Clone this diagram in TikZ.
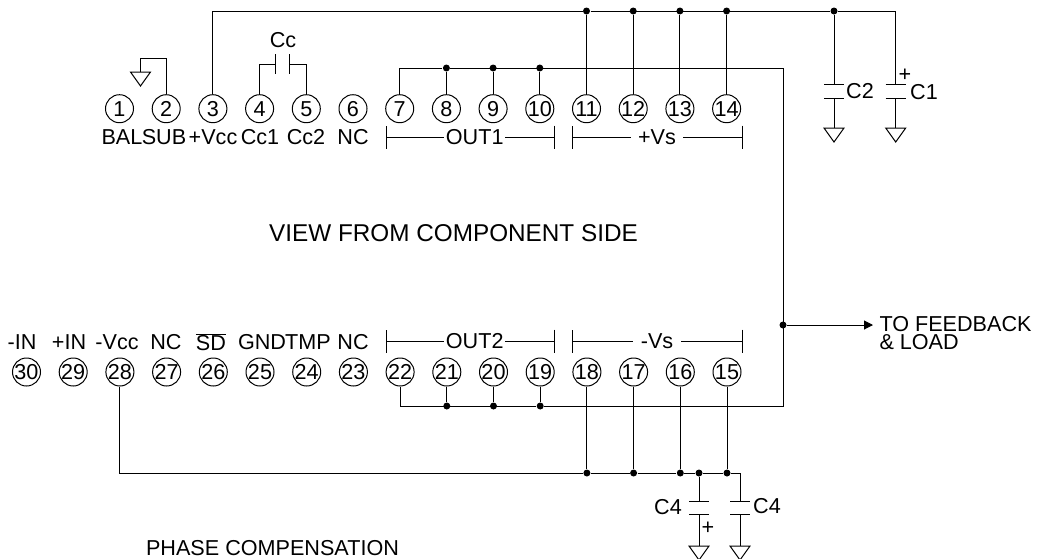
\documentclass[tikz,border=0pt]{standalone}
\usepackage{fontspec}
\setmainfont{Liberation Sans}
\usetikzlibrary{arrows.meta}
\tikzset{
  pin/.style={draw, circle, inner sep=0pt, minimum size=28pt},
  lbl/.style={inner sep=0pt, font=\fontsize{21.6}{21.6}\selectfont},
  lblb/.style={lbl, inner sep=1pt},
  lblw/.style={lbl, inner sep=7pt},
  jdot/.style={fill, circle, inner sep=0pt, minimum size=7pt},
  brack/.style={{Bar[width=23pt]}-},
  capplate/.style={line width=1pt}
}
\begin{document}
\begin{tikzpicture}[x=1pt, y=-1pt, line width=1pt]
\useasboundingbox (0,0) rectangle (1038,558);
% pins
\foreach \n in {1,...,14}{
  \node[pin, label={[lbl]center:\n}] (p\n) at ({72.8+46.7*\n},108.7) {};
}
\foreach \n in {15,...,30}{
  \node[pin, label={[lbl]center:\n}] (p\n) at ({727-46.7*(\n-15)},372) {};
}
% pin names, top row
\foreach \nm/\x/\t in {bal/122/BAL,sub/164/SUB,vccp/213/+Vcc,ccone/260/Cc1,cctwo/306/Cc2,nca/353/NC}{
  \node[lbl] (\nm) at (\x,137) {\t};
}
% pin names, bottom row
\foreach \nm/\x/\t in {inm/22/-IN,inp/69/+IN,vccm/117/-Vcc,ncb/166/NC,gnd/262/GND,tmp/308/TMP,ncc/353/NC}{
  \node[lbl] (\nm) at (\x,342) {\t};
}
\node[lbl] (sd) at (211,342) {$\overline{\mbox{SD}}$};
% brackets
\node[lblb] (outone) at (474.7,137) {OUT1};
\node[lblw] (vsp) at (657,137) {+Vs};
\node[lblb] (outtwo) at (474.7,341) {OUT2};
\node[lblw] (vsm) at (657,341) {-Vs};
\coordinate (bl1) at (385.5,137);
\coordinate (br1) at (555,137);
\coordinate (bl2) at (572,137);
\coordinate (br2) at (743,137);
\coordinate (bl3) at (385.5,341);
\coordinate (br3) at (555,341);
\coordinate (bl4) at (572,341);
\coordinate (br4) at (743,341);
\draw[brack] (bl1) -- (outone);
\draw[brack] (br1) -- (outone);
\draw[brack] (bl2) -- (vsp);
\draw[brack] (br2) -- (vsp);
\draw[brack] (bl3) -- (outtwo);
\draw[brack] (br3) -- (outtwo);
\draw[brack] (bl4) -- (vsm);
\draw[brack] (br4) -- (vsm);
% supply bus, top
\foreach \n in {11,12,13,14}{
  \node[jdot] (jt\n) at (p\n |- 0,11) {};
  \draw (p\n) -- (jt\n);
}
\node[jdot] (jc2) at (834,11) {};
\coordinate (c1corner) at (895.7,11);
\coordinate (c1t) at (895.7,84);
\coordinate (c1b) at (895.7,98);
\coordinate (c2t) at (834,84);
\coordinate (c2b) at (834,98);
\coordinate (g1) at (895.7,128);
\coordinate (g2) at (834,128);
\draw (p3) |- (jt11) -- (jc2) -- (c1corner) -- (c1t);
\draw (jc2) -- (c2t);
\draw (c2b) -- (g2);
\draw (c1b) -- (g1);
\node[lbl] (c2lbl) at (860,91) {C2};
\node[lbl] (c1lbl) at (924,92) {C1};
\node[lbl] (c1plus) at (905,75) {+};
% output net
\foreach \n in {8,9,10}{
  \node[jdot] (jo\n) at (p\n |- 0,68) {};
  \draw (p\n) -- (jo\n);
}
\foreach \n in {21,20,19}{
  \node[jdot] (jo\n) at (p\n |- 0,406) {};
  \draw (p\n) -- (jo\n);
}
\coordinate (nettop) at (783,68);
\coordinate (netbot) at (783,406);
\draw (p7) |- (jo8) -- (nettop) -- (netbot) -- (jo19) -- (p22 |- jo19) -- (p22);
\node[jdot] (jout) at (783,325) {};
\node[lbl, anchor=west] (fb) at (879,324) {TO FEEDBACK};
\node[lbl, anchor=west] (load) at (879,342) {\& LOAD};
\draw[-{Triangle[length=9pt,width=9pt]}, shorten >=6pt] (jout) -- (jout -| fb.west);
% supply bus, bottom
\foreach \n in {18,17,16,15}{
  \node[jdot] (jb\n) at (p\n |- 0,473) {};
  \draw (p\n) -- (jb\n);
}
\node[jdot] (jc4) at (699,473) {};
\coordinate (c4corner) at (740,473);
\coordinate (c4at) at (699,501);
\coordinate (c4ab) at (699,514);
\coordinate (c4bt) at (740,501);
\coordinate (c4bb) at (740,514);
\coordinate (g4a) at (699,546);
\coordinate (g4b) at (740,546);
\draw (p28) |- (jb18) -- (jb17) -- (jb16) -- (jc4) -- (jb15) -- (c4corner) -- (c4bt);
\draw (jc4) -- (c4at);
\draw (c4ab) -- (g4a);
\draw (c4bb) -- (g4b);
\node[lbl] (c4alb) at (668,507) {C4};
\node[lbl] (c4blb) at (767,506) {C4};
\node[lbl] (c4plus) at (708,528) {+};
% plates
\foreach \c in {c1t,c1b,c2t,c2b,c4at,c4ab,c4bt,c4bb}{
  \draw[capplate] (\c) ++(-10,0) -- ++(20,0);
}
% Cc and pin 2
\coordinate (cca) at (275,64);
\coordinate (ccb) at (289,64);
\draw (p4) |- (cca);
\draw (p5) |- (ccb);
\draw[capplate] (cca) ++(0,-10) -- ++(0,20);
\draw[capplate] (ccb) ++(0,-10) -- ++(0,20);
\node[lbl] (cclbl) at (283,40) {Cc};
\coordinate (g0) at (140.5,72);
\coordinate (subc) at (140.5,58);
\draw (p2) |- (subc) -- (g0);
% grounds
\foreach \g in {g0,g1,g2,g4a,g4b}{
  \draw (\g) ++(-10,0) -- ++(20,0) -- ++(-10,14) -- cycle;
}
% captions
\node[lbl, font=\fontsize{24.3}{24.3}\selectfont] (view) at (453.5,233) {VIEW FROM COMPONENT SIDE};
\node[lbl] (phase) at (272.5,548) {PHASE COMPENSATION};
\end{tikzpicture}
\end{document}
